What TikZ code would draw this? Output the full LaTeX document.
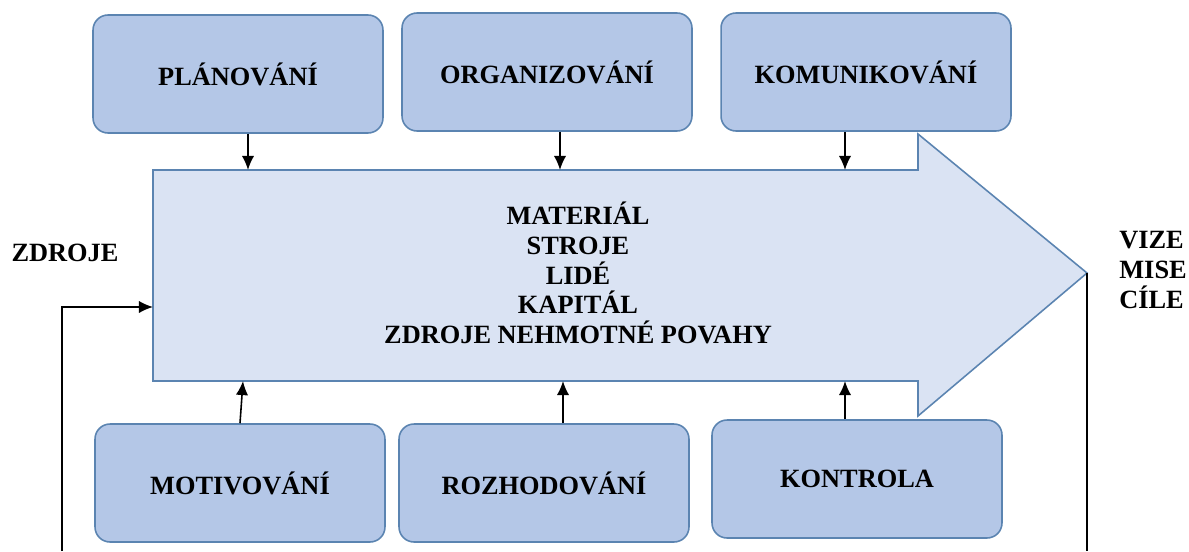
\documentclass[tikz,border=0pt]{standalone}
\usepackage{fontspec}
\setmainfont{Liberation Serif}
\usetikzlibrary{arrows.meta}
\usetikzlibrary{positioning}
\definecolor{mg-box}{HTML}{B4C7E7}
\definecolor{mg-flow}{HTML}{DAE3F3}
\definecolor{mg-edge}{HTML}{5B84B1}

\begin{document}
\begin{tikzpicture}[x=0.02cm, y=-0.02cm, >={Latex[length=8pt,width=7pt]},
        fn/.style={draw=mg-edge, line width=0.9pt, fill=mg-box, rounded corners=0.3cm,
            minimum width=5.8cm, minimum height=2.36cm, font=\fontsize{15}{17}\selectfont\bfseries},
        lbl/.style={font=\fontsize{15}{17}\selectfont\bfseries, align=center},
        conn/.style={->, line width=0.9pt, black}]
        \useasboundingbox (0,0) rectangle (1189,551);
        % the big arrow
        \filldraw[mg-edge, fill=mg-flow, line width=0.9pt] (153,170) -- (918,170) -- (918,134) -- (1087,273)
            -- (918,416) -- (918,381) -- (153,381) -- cycle;
        \coordinate (tip) at (1087,273);
        \node[lbl] (res) at (578,273) {MATERIÁL\\STROJE\\LIDÉ\\KAPITÁL\\ZDROJE NEHMOTNÉ POVAHY};
        \node[lbl] (zdroje) at (65,253) {ZDROJE};
        \node[lbl, align=left, anchor=west, inner sep=0pt] (cile) at (1119,270) {VIZE\\MISE\\CÍLE};
        % functions
        \node[fn] (plan) at (238,74) {PLÁNOVÁNÍ};
        \node[fn] (org) at (547,72) {ORGANIZOVÁNÍ};
        \node[fn] (kom) at (866,72) {KOMUNIKOVÁNÍ};
        \node[fn] (motiv) at (240,483) {MOTIVOVÁNÍ};
        \node[fn] (rozh) at (544,483) {ROZHODOVÁNÍ};
        \node[fn] (kontr) at (857,479) {KONTROLA};
        % where they meet the arrow
        \coordinate (in1) at (248,170);
        \coordinate (in2) at (560,170);
        \coordinate (in3) at (845,170);
        \coordinate (out1) at (243,381);
        \coordinate (out2) at (563,381);
        \coordinate (out3) at (845,381);
        \draw[conn] (plan.south -| in1) -- (in1);
        \draw[conn] (org.south -| in2) -- (in2);
        \draw[conn] (kom.south -| in3) -- (in3);
        \draw[conn] (motiv.north) -- (out1);
        \draw[conn] (rozh.north -| out2) -- (out2);
        \draw[conn] (kontr.north -| out3) -- (out3);
        % in and out
        \coordinate (src) at (62,551);
        \coordinate (in0) at (153,307);
        \coordinate (goal) at (1087,551);
        \draw[conn] (src) |- (in0);
        \draw[line width=0.9pt] (tip) -- (goal);
\end{tikzpicture}
\end{document}
